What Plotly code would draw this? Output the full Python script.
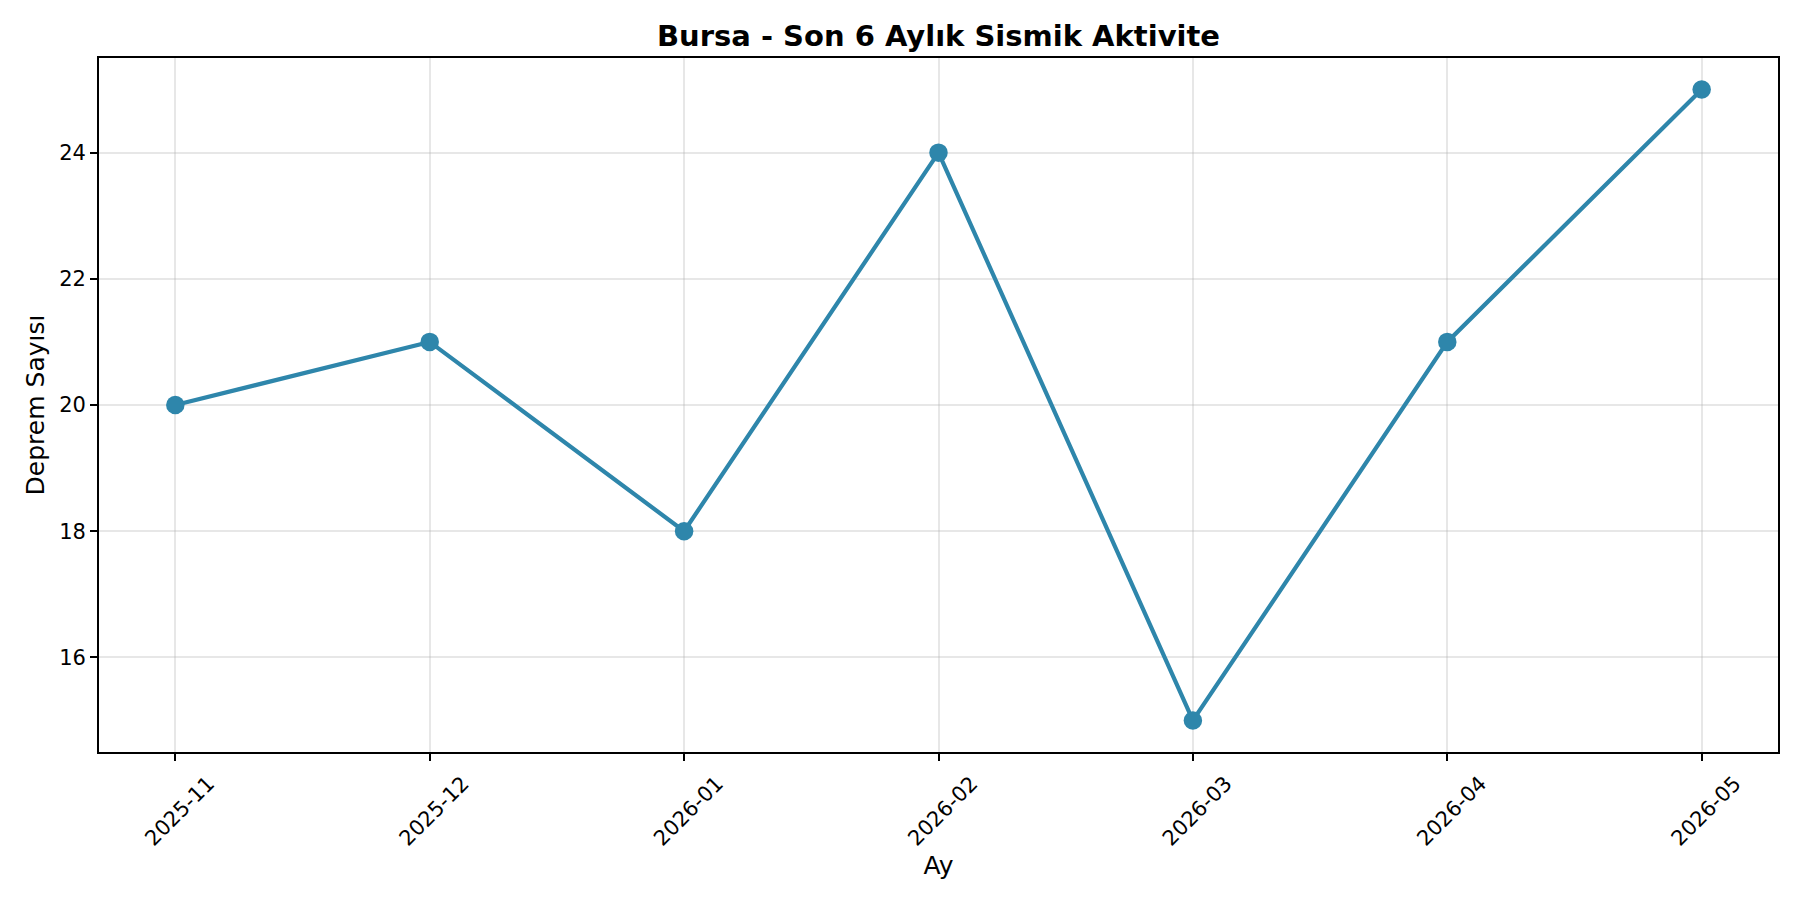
import plotly.graph_objects as go

months = ["2025-11", "2025-12", "2026-01", "2026-02", "2026-03", "2026-04", "2026-05"]
counts = [20, 21, 18, 24, 15, 21, 25]
y_ticks = [16, 18, 20, 22, 24]

title_text = "Bursa - Son 6 Aylık Sismik Aktivite"
x_title = "Ay"
y_title = "Deprem Sayısı"

line_color = "#2E86AB"
font_family = "DejaVu Sans"

fig = go.Figure()
fig.add_trace(go.Scatter(
    x=months, y=counts, mode="lines+markers",
    line=dict(color=line_color, width=4.2),
    marker=dict(color=line_color, size=18.5),
    showlegend=False,
))

grid_color = "rgba(176,176,176,0.3)"

L, R, T, B = 91, 30, 50, 156
fig.update_layout(
    width=1800, height=900,
    margin=dict(l=L, r=R, t=T, b=B, autoexpand=False),
    paper_bgcolor="white", plot_bgcolor="white",
    font=dict(family=font_family, color="black", size=21),
    title=dict(text="<b>" + title_text + "</b>", x=(L + 1800 - R) / 2 / 1800, xanchor="center",
               y=1 - 27.5 / 900, yanchor="middle", font=dict(size=29, family=font_family, color="black")),
    xaxis=dict(
        type="category", range=[-0.3, 6.3],
        showgrid=True, gridcolor=grid_color, gridwidth=1.7,
        showline=True, linecolor="black", linewidth=1.7, mirror=True,
        ticks="outside", ticklen=7, tickwidth=1.7, tickcolor="black",
        tickangle=-45, tickfont=dict(size=21), ticklabelshift=33, ticklabelstandoff=2,
        title=dict(text=x_title, font=dict(size=25), standoff=5),
        zeroline=False,
    ),
    yaxis=dict(
        range=[14.5, 25.5], tickvals=y_ticks,
        showgrid=True, gridcolor=grid_color, gridwidth=1.7,
        showline=True, linecolor="black", linewidth=1.7, mirror=True,
        ticks="outside", ticklen=7, tickwidth=1.7, tickcolor="black",
        tickfont=dict(size=21),
        title=dict(text=y_title, font=dict(size=25), standoff=7),
        zeroline=False,
    ),
)

fig.write_html("out.html")
